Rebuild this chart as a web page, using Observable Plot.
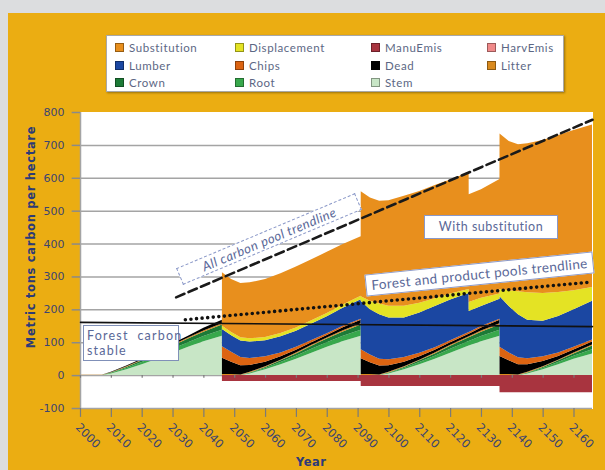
<!DOCTYPE html>
<html><head><meta charset="utf-8">
<script src="https://cdn.jsdelivr.net/npm/d3@7"></script>
<script src="https://cdn.jsdelivr.net/npm/@observablehq/plot@0.6"></script>
<style>
html,body{margin:0;padding:0;background:#dcdddf;}
#wrap{position:relative;width:605px;height:470px;overflow:hidden;}
#panel{position:absolute;left:8px;top:13px;right:0;bottom:0;background:#ebad12;}
#chart{position:absolute;left:0;top:0;}
.box{position:absolute;background:#fff;color:#5a6898;font-family:Lato,sans-serif;box-sizing:border-box;white-space:nowrap;}
#legend{position:absolute;left:106px;top:35px;width:458px;height:57px;background:#fff;border:1px solid #a8a8a8;box-shadow:1px 1px 2px rgba(0,0,0,0.35);box-sizing:border-box;}
.li{position:absolute;font-family:Lato,sans-serif;font-size:11.5px;letter-spacing:0.6px;color:#5c6784;line-height:12px;white-space:nowrap;}
.sw{display:inline-block;width:7px;height:7px;margin-right:5px;vertical-align:0px;border:1px solid rgba(0,0,0,0.35);}
.ttl{position:absolute;font-family:"DejaVu Sans",sans-serif;font-weight:bold;font-size:11.5px;color:#2c3a78;white-space:nowrap;}
</style></head>
<body>
<div id="wrap">
<div id="panel"></div>
<div id="chart"></div>
<div id="legend"></div>
<div class="box" style="left:83px;top:325px;width:96px;height:36px;border:1px solid #8090b8;font-size:12.5px;letter-spacing:1.2px;line-height:15px;padding:2px 0 0 3px;">Forest&nbsp; carbon<br>stable</div>
<div class="box" style="left:172px;top:230px;width:194px;height:18px;border:1px dashed #8a98c8;font-size:13px;font-style:italic;letter-spacing:0.5px;line-height:16px;text-align:center;transform:rotate(-22.8deg);">All carbon pool trendline</div>
<div class="box" style="left:365px;top:263px;width:229px;height:22px;border:1px solid #8a98c8;font-size:13.5px;letter-spacing:0.4px;line-height:20px;text-align:center;transform:rotate(-5.8deg);">Forest and product pools trendline</div>
<div class="box" style="left:424px;top:215px;width:134px;height:24px;border:1px solid #8a98c8;font-size:12.5px;letter-spacing:0.5px;line-height:22px;text-align:center;">With substitution</div>
<div class="ttl" style="left:31px;top:237px;letter-spacing:0.7px;transform:translate(-50%,-50%) rotate(-90deg);">Metric tons carbon per hectare</div>
<div class="ttl" style="left:296px;top:455px;font-size:11.5px;letter-spacing:0.5px;">Year</div>
</div>
<script>
// ---- data ----
const years = [2000,2007,2010,2015,2020,2025,2030,2035,2040,2046,
  2046,2049,2052,2055,2060,2065,2070,2075,2080,2085,2091,
  2091,2094,2097,2100,2105,2110,2115,2120,2126,
  2126,2130,2136,
  2136,2139,2142,2145,2150,2155,2160,2166];
const stem = [0,0,5,18,33,50,68,86,103,120,
  0,0,0,5,18,33,50,68,86,103,120,
  0,0,0,5,18,33,50,68,90,
  90,103,120,
  0,0,0,5,18,33,50,66];
const root = [0,0,2,4,7,9,12,14,16,18,
  0,0,0,2,4,7,9,12,14,16,18,
  0,0,0,2,4,7,9,12,14,
  14,16,18,
  0,0,0,2,4,7,9,13];
const crown = [0,0,1,3,5,7,9,11,13,16,
  0,0,0,1,3,5,7,9,11,13,16,
  0,0,0,1,3,5,7,9,11,
  11,13,16,
  0,0,0,1,3,5,7,11];
const litter = [1,1,1,2,2,3,3,3,4,4,
  3,3,2,2,2,2,3,3,3,4,4,
  3,3,2,2,2,2,3,3,3,
  3,4,4,
  3,3,2,2,2,2,3,3];
const dead = [0,0,1,2,3,4,5,6,8,10,
  50,38,28,21,14,10,8,8,8,9,10,
  48,36,27,20,14,10,8,8,8,
  8,9,10,
  55,42,31,23,16,11,9,9];
const chips = [0,0,0,0,0,0,0,0,0,0,
  35,30,25,21,16,12,9,7,5,4,3,
  28,24,21,18,14,11,8,6,5,
  5,4,3,
  28,24,21,18,14,11,8,6];
const lumber = [0,0,0,0,0,0,0,0,0,0,
  52,50,50,50,49,49,49,50,52,55,60,
  146,137,135,127,120,122,125,124,119,
  64,61,61,
  154,141,131,117,108,111,114,118];
const displacement = [0,0,0,0,0,0,0,0,0,0,
  10,10,10,10,10,10,10,10,10,10,10,
  15,26,33,36,36,30,24,18,12,
  27,25,16,
  22,48,70,84,85,73,58,42];
const substitution = [0,0,0,0,0,0,0,0,0,0,
  163,161,165,170,176,182,185,185,186,184,181,
  319,314,312,321,334,340,344,347,355,
  328,330,348,
  473,454,447,453,465,477,487,494];
const manuEmis = [0,0,0,0,0,0,0,0,0,0,
  -18,-18,-18,-18,-18,-18,-18,-18,-18,-18,-18,
  -33,-33,-33,-33,-33,-33,-33,-33,-33,
  -33,-33,-33,
  -52,-52,-52,-52,-52,-52,-52,-52];
const harvEmis = years.map(() => 0);

const seriesNames = ["Stem","Root","Crown","Litter","Dead","Chips","Lumber","Displacement","Substitution","ManuEmis","HarvEmis"];
const seriesValues = [stem,root,crown,litter,dead,chips,lumber,displacement,substitution,manuEmis,harvEmis];
const seriesColors = ["#c8e6c6","#38a84c","#1c7a36","#d98a1e","#000000","#dc6412","#1b47a2","#e4e324","#e88f1d","#a8343f","#f08a8a"];

const legendRows = [["Substitution","Displacement","ManuEmis","HarvEmis"],["Lumber","Chips","Dead","Litter"],["Crown","Root","Stem"]];

const trendAllYears = [2031,2166], trendAllValues = [238,778];
const trendForestYears = [2034,2165], trendForestValues = [170,284];
const stableYears = [2000,2166], stableValues = [162,149];

const xTicks = d3.range(2000, 2161, 10);
const yTicks = d3.range(-100, 801, 100);
const gridY = d3.range(-100, 701, 100);

// ---- build table ----
const xPos = years.map((y, i) => (i > 0 && years[i-1] === y) ? y + 0.02 : y);
const table = [];
seriesNames.forEach((s, k) => {
  seriesValues[k].forEach((v, i) => table.push({year: xPos[i], value: v, series: s}));
});
const line = (xs, vs) => xs.map((x, i) => ({x, v: vs[i]}));

const chart = Plot.plot({
  width: 605, height: 470,
  marginLeft: 80, marginRight: 13, marginTop: 112, marginBottom: 62,
  x: {domain: [2000, 2166], axis: null},
  y: {domain: [-100, 800], axis: null},
  color: {domain: seriesNames, range: seriesColors},
  style: {background: "transparent", overflow: "visible"},
  marks: [
    Plot.frame({fill: "white", stroke: "white"}),
    Plot.ruleY(gridY, {stroke: "#a4a4a4", strokeWidth: 1.5}),
    Plot.areaY(table, Plot.stackY({x: "year", y: "value", z: "series", fill: "series", order: seriesNames})),
    Plot.ruleX([2000], {y1: -100, y2: 800, stroke: "#a4a4a4", strokeWidth: 1.5}),
    Plot.ruleY(yTicks, {x1: 1997.3, x2: 2000, stroke: "#8a8a8a", strokeWidth: 1.5}),
    Plot.ruleX(xTicks, {y1: -100, y2: -127, stroke: "#7a7a7a", strokeWidth: 1.2}),
    Plot.ruleX(xTicks, {y1: 0, y2: -8, stroke: "#7a7a7a", strokeWidth: 1.2}),
    Plot.line(line(stableYears, stableValues), {x: "x", y: "v", stroke: "#111", strokeWidth: 1.6}),
    Plot.line(line(trendAllYears, trendAllValues), {x: "x", y: "v", stroke: "#1a1a1a", strokeWidth: 2.6, strokeDasharray: "9,4.5"}),
    Plot.line(line(trendForestYears, trendForestValues), {x: "x", y: "v", stroke: "#111", strokeWidth: 3.6, strokeDasharray: "0,5.6", strokeLinecap: "round"}),
    Plot.text(yTicks, {x: 2000, y: d => d, dx: -16, textAnchor: "end", text: d => String(d), fontFamily: "DejaVu Sans", fontSize: 11, fill: "#3b4470"}),
    Plot.text(xTicks, {x: d => d, y: -100, dx: -3, dy: 17, rotate: 45, textAnchor: "start", text: d => String(d), fontFamily: "DejaVu Sans", fontSize: 11.5, fill: "#3b4470"})
  ]
});
document.getElementById("chart").appendChild(chart);

// ---- legend ----
const colorOf = Object.fromEntries(seriesNames.map((s, i) => [s, seriesColors[i]]));
const colX = [8, 128, 264, 380], rowY = [6, 24, 41];
const leg = document.getElementById("legend");
legendRows.forEach((row, r) => row.forEach((name, c) => {
  const d = document.createElement("div");
  d.className = "li";
  d.style.left = colX[c] + "px"; d.style.top = rowY[r] + "px";
  const sw = document.createElement("span");
  sw.className = "sw"; sw.style.background = colorOf[name];
  d.appendChild(sw);
  d.appendChild(document.createTextNode(name));
  leg.appendChild(d);
}));
</script>
</body></html>
